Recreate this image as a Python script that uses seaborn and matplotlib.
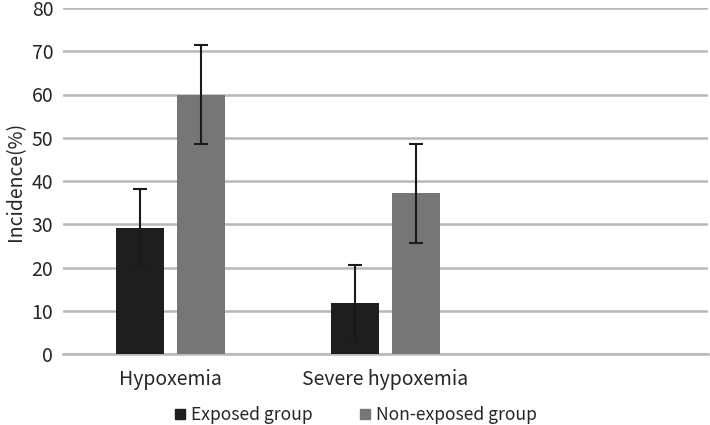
import matplotlib
matplotlib.use('Agg')
import matplotlib.pyplot as plt
import numpy as np
import pandas as pd
import seaborn as sns

categories = ['Hypoxemia', 'Severe hypoxemia']
groups = ['Exposed group', 'Non-exposed group']
exposed = [29.2, 11.7]
non_exposed = [60.0, 37.2]
exposed_lo = [20.4, 2.8]
exposed_hi = [38.2, 20.5]
non_exposed_lo = [48.5, 25.6]
non_exposed_hi = [71.4, 48.5]
yticks = [0, 10, 20, 30, 40, 50, 60, 70, 80]

colors = ['#1e1e1e', '#767676']
grid_col = '#b8b8b8'
text_col = '#262626'

sns.set_style('white')
plt.rcParams['font.family'] = ['Noto Sans CJK SC', 'DejaVu Sans']

df = pd.DataFrame({
    'category': categories * 2,
    'group': [groups[0]] * 2 + [groups[1]] * 2,
    'value': exposed + non_exposed,
})

fig = plt.figure(figsize=(7.1, 4.25), dpi=100)
ax = fig.add_axes([63 / 710, 1 - 354 / 425, 645 / 710, 346 / 425])

sns.barplot(data=df, x='category', y='value', hue='group', order=categories,
            hue_order=groups, palette=colors, width=0.567, gap=0.22,
            errorbar=None, saturation=1, linewidth=0, ax=ax, legend=False,
            zorder=3)

# error bars from bar centres
lows = exposed_lo + non_exposed_lo
highs = exposed_hi + non_exposed_hi
vals = exposed + non_exposed
for p, v, lo, hi in zip(ax.patches, vals, lows, highs):
    cx = p.get_x() + p.get_width() / 2
    ax.errorbar(cx, v, yerr=[[v - lo], [hi - v]], fmt='none', ecolor='#1a1a1a',
                elinewidth=1.5, capsize=5, capthick=1.5, zorder=4)

ax.set_xlim(-0.5, 2.5)
ax.set_ylim(0, 80)
ax.set_yticks(yticks)
ax.yaxis.grid(True, color=grid_col, linewidth=1.8, zorder=0)
ax.set_axisbelow(True)
for s in ['top', 'right', 'left']:
    ax.spines[s].set_visible(False)
ax.spines['bottom'].set_color(grid_col)
ax.spines['bottom'].set_linewidth(1.8)
ax.tick_params(axis='both', length=0, labelsize=14, colors=text_col, pad=7)
ax.tick_params(axis='x', pad=11)
ax.set_xlabel('')
ax.set_ylabel('Incidence(%)', fontsize=14, color=text_col, labelpad=4)

handles = [plt.Line2D([], [], marker='s', linestyle='none', markersize=7,
                      markerfacecolor=c, markeredgecolor=c) for c in colors]
fig.legend(handles, groups, loc='lower center', bbox_to_anchor=(0.5, -0.035),
           ncol=2, frameon=False, fontsize=12.6, handletextpad=0.25,
           columnspacing=2.6, handlelength=0.8, labelcolor=text_col)

plt.savefig('out.png', dpi=100)
